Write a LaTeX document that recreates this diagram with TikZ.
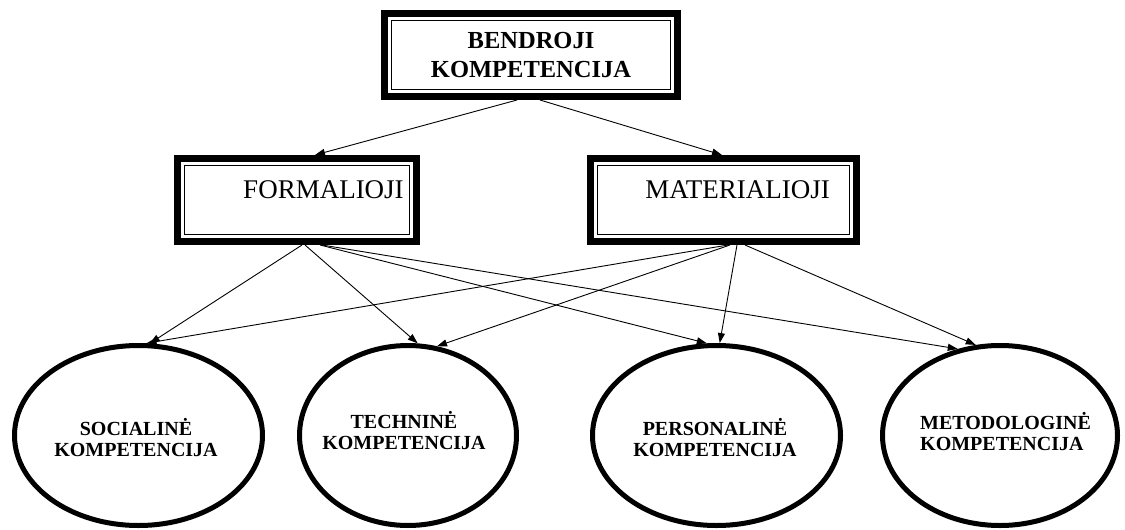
\documentclass[tikz,border=0pt]{standalone}
\usepackage{fontspec}
\setmainfont{Liberation Serif}
\usetikzlibrary{arrows.meta,shapes.geometric}
\begin{document}
\begin{tikzpicture}[x=1pt,y=-1pt,
  frame/.style={draw, line width=7pt, inner sep=0pt, fill=white},
  inner rule/.style={line width=1.2pt},
  head/.style={font=\fontsize{24.5}{29}\selectfont\bfseries, align=center},
  kind/.style={font=\fontsize{27}{30}\selectfont, inner sep=0pt, anchor=base},
  area/.style={ellipse, draw, line width=5pt, minimum height=180pt, inner sep=0pt},
  area text/.style={font=\fontsize{20}{21}\selectfont\bfseries, inner sep=0pt, align=center},
  link/.style={-{Triangle[length=10pt,width=7pt]}, line width=0.9pt}]

% page
\useasboundingbox (0,0) rectangle (1125,530);
\fill[white] (0,0) rectangle (1125,530);

% framed boxes
\node[frame, minimum width=293pt, minimum height=83pt, head] (general) at (531,55) {BENDROJI\\KOMPETENCIJA};
\node[frame, minimum width=239pt, minimum height=83pt] (formal) at (297,200) {};
\node[frame, minimum width=266pt, minimum height=83pt] (material) at (723.5,200) {};
\foreach \b in {general,formal,material}
  \draw[inner rule] ([shift={(10.5,10.5)}]\b.north west) rectangle ([shift={(-10.5,-10.5)}]\b.south east);
\node[kind] (formalT) at (323.5,198) {FORMALIOJI};
\node[kind] (materialT) at (737.5,198) {MATERIALIOJI};

% competence areas
\node[area, minimum width=248pt] (soc) at (138.5,435.5) {};
\node[area, minimum width=217pt] (tech) at (408,435.5) {};
\node[area, minimum width=248pt] (pers) at (716.5,435.5) {};
\node[area, minimum width=235pt] (meth) at (1000,435.5) {};
\node[area text] (socT) at (136,438) {SOCIALINĖ\\KOMPETENCIJA};
\node[area text] (techT) at (404,431) {TECHNINĖ\\KOMPETENCIJA};
\node[area text] (persT) at (715,438) {PERSONALINĖ\\KOMPETENCIJA};
\node[area text, align=left, anchor=west] (methT) at (920,432) {METODOLOGINĖ\\KOMPETENCIJA};

% connectors
\draw[link] ([xshift=-14pt]general.south) -- ([xshift=18pt]formal.north);
\draw[link] ([xshift=9pt]general.south) -- ([xshift=-1.5pt]material.north);

\draw[link] ([xshift=5pt]formal.south) -- (soc.83);
\draw[link] ([xshift=8pt]formal.south) -- (tech.84);
\draw[link] ([xshift=23pt]formal.south) -- (pers.96);
\draw[link] ([xshift=25pt]formal.south) -- (meth.116);

\draw[link] ([xshift=4.5pt]material.south) -- (soc.85);
\draw[link] ([xshift=6.5pt]material.south) -- (tech.72);
\draw[link] ([xshift=13.5pt]material.south) -- (pers.88);
\draw[link] ([xshift=21.5pt]material.south) -- (meth.105);
\end{tikzpicture}
\end{document}
